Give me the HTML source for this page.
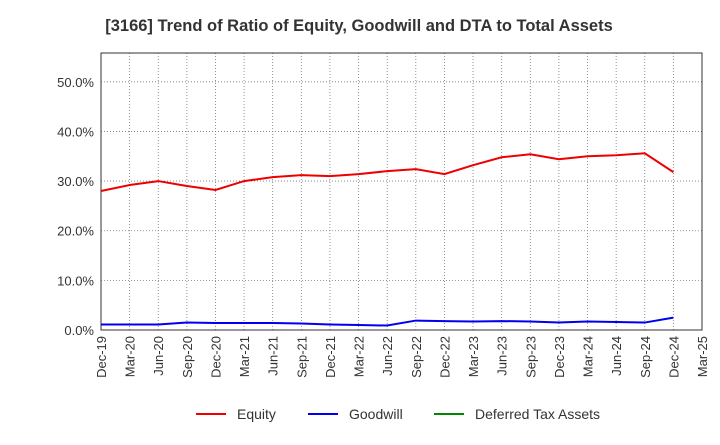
<!DOCTYPE html>
<html><head><meta charset="utf-8"><style>
body{margin:0;background:#fff;font-family:"Liberation Sans",sans-serif;}
svg text{font-family:"Liberation Sans",sans-serif;}
</style></head><body>
<svg width="720" height="440">
<text x="359" y="31" text-anchor="middle" font-size="16.5" font-weight="bold" fill="#333">[3166]  Trend of Ratio of Equity, Goodwill and DTA to Total Assets</text>
<g id="grid"></g><g id="axes"></g><g id="series"></g>
<g>
<line x1="196" y1="414" x2="226" y2="414" stroke="#e00" stroke-width="2"/><text x="237" y="419" font-size="14" fill="#333">Equity</text>
<line x1="308" y1="414" x2="338" y2="414" stroke="#00e" stroke-width="2"/><text x="349" y="419" font-size="14" fill="#333">Goodwill</text>
<line x1="434" y1="414" x2="464" y2="414" stroke="#080" stroke-width="2"/><text x="475" y="419" font-size="14" fill="#333">Deferred Tax Assets</text>
</g>
</svg>
<script>
const categories=["Dec-19","Mar-20","Jun-20","Sep-20","Dec-20","Mar-21","Jun-21","Sep-21","Dec-21","Mar-22","Jun-22","Sep-22","Dec-22","Mar-23","Jun-23","Sep-23","Dec-23","Mar-24","Jun-24","Sep-24","Dec-24","Mar-25"];
const equity=[28.0,29.2,30.0,29.0,28.2,30.0,30.8,31.2,31.0,31.4,32.0,32.4,31.4,33.2,34.8,35.4,34.4,35.0,35.2,35.6,31.8];
const goodwill=[1.1,1.1,1.1,1.5,1.4,1.4,1.4,1.3,1.1,1.0,0.9,1.9,1.8,1.7,1.8,1.7,1.5,1.7,1.6,1.5,2.5];
const yTicks=[0,10,20,30,40,50];
const NS="http://www.w3.org/2000/svg";
const L=101,R=702,T=53,B=330,yMax=55.8;
const x=i=>L+i*(R-L)/(categories.length-1);
const y=v=>B-v*(B-T)/yMax;
function mk(t,a,p){const e=document.createElementNS(NS,t);for(const k in a)e.setAttribute(k,a[k]);p.appendChild(e);return e;}
const grid=document.getElementById('grid'),axes=document.getElementById('axes'),series=document.getElementById('series');
for(let i=1;i<categories.length-1;i++){const g=mk('line',{x1:x(i),x2:x(i),y1:T,y2:B,stroke:'#777','stroke-dasharray':'1,2','stroke-width':0.8},grid);

}
yTicks.forEach(v=>{if(v===0)return;const g=mk('line',{x1:L,x2:R,y1:y(v),y2:y(v),stroke:'#777','stroke-dasharray':'1,2','stroke-width':0.8},grid);

});
const frame=mk('rect',{x:L,y:T,width:R-L,height:B-T,fill:'none',stroke:'#333'},grid);


yTicks.forEach(v=>{const t=mk('text',{x:L-7,y:y(v)+5,'text-anchor':'end','font-size':13,fill:'#333'},axes);t.textContent=v.toFixed(1)+'%';

});
categories.forEach((c,i)=>{const t=mk('text',{transform:`translate(${x(i)+5},${B+6}) rotate(-90)`,'text-anchor':'end','font-size':13,fill:'#333'},axes);t.textContent=c;

});
function line(d,c,n){const p=mk('polyline',{points:d.map((v,i)=>x(i)+','+y(v)).join(' '),fill:'none',stroke:c,'stroke-width':2},series);

}
line(equity,'#e00','equity-line');
line(goodwill,'#00e','goodwill-line');
</script>
</body></html>
